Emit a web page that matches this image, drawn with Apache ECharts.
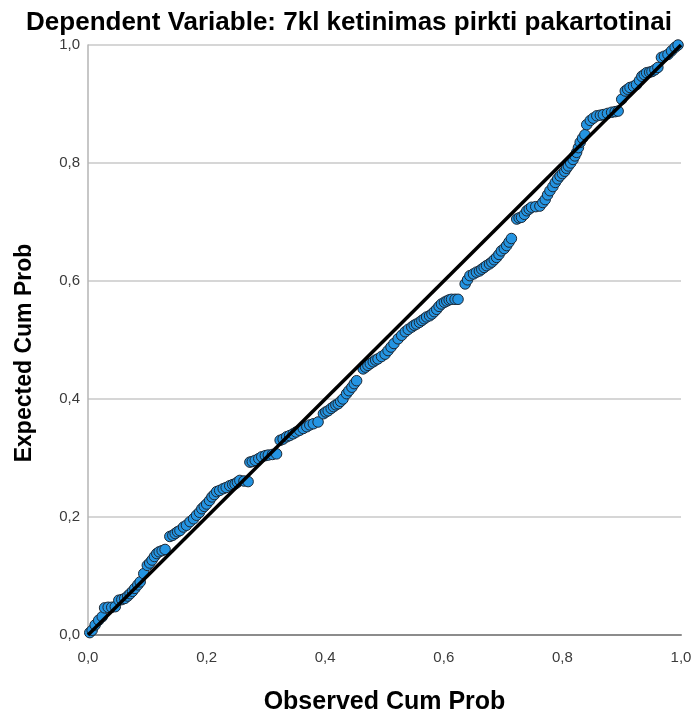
<!DOCTYPE html>
<html>
<head>
<meta charset="utf-8">
<script src="https://cdn.jsdelivr.net/npm/echarts@6/dist/echarts.min.js"></script>
<style>
html,body{margin:0;padding:0;background:#fff;}
#chart{width:698px;height:720px;}
</style>
</head>
<body>
<div id="chart"></div>
<script>
var titleText = 'Dependent Variable: 7kl ketinimas pirkti pakartotinai';
var xAxisName = 'Observed Cum Prob';
var yAxisName = 'Expected Cum Prob';
var tickValues = [0, 0.2, 0.4, 0.6, 0.8, 1.0];

var observedCumProb = [
0.003,0.007,0.012,0.018,0.024,0.028,0.034,0.040,0.046,0.052,0.057,0.062,0.067,0.071,0.075,0.079,0.084,0.088,0.094,0.100,
0.104,0.108,0.112,0.116,0.120,0.125,0.130,0.138,0.143,0.147,0.151,0.155,0.161,0.166,0.172,0.178,0.183,0.188,0.192,0.196,
0.200,0.205,0.209,0.213,0.217,0.222,0.228,0.233,0.239,0.244,0.248,0.252,0.256,0.263,0.270,0.273,0.277,0.282,0.288,0.293,
0.299,0.304,0.311,0.318,0.324,0.329,0.335,0.340,0.346,0.351,0.357,0.363,0.369,0.374,0.380,0.388,0.397,0.401,0.405,0.410,
0.414,0.418,0.422,0.426,0.430,0.436,0.440,0.445,0.449,0.453,0.464,0.468,0.472,0.476,0.481,0.485,0.489,0.495,0.501,0.506,
0.511,0.516,0.523,0.529,0.535,0.540,0.546,0.550,0.554,0.559,0.563,0.567,0.571,0.576,0.580,0.584,0.588,0.592,0.596,0.601,
0.605,0.609,0.613,0.619,0.624,0.636,0.640,0.644,0.650,0.655,0.660,0.664,0.668,0.672,0.677,0.681,0.685,0.689,0.693,0.697,
0.702,0.706,0.710,0.714,0.723,0.727,0.731,0.736,0.740,0.744,0.748,0.755,0.762,0.767,0.771,0.775,0.779,0.784,0.788,0.792,
0.796,0.800,0.804,0.807,0.810,0.814,0.818,0.821,0.824,0.827,0.830,0.834,0.838,0.841,0.847,0.852,0.858,0.864,0.869,0.876,
0.883,0.889,0.894,0.900,0.906,0.910,0.914,0.920,0.925,0.930,0.934,0.938,0.942,0.947,0.951,0.956,0.961,0.967,0.972,0.978,
0.984,0.990,0.995
];
var expectedCumProb = [
0.004,0.008,0.017,0.025,0.031,0.046,0.047,0.047,0.048,0.059,0.060,0.062,0.066,0.070,0.074,0.079,0.085,0.090,0.104,0.118,
0.122,0.127,0.133,0.138,0.141,0.143,0.145,0.167,0.169,0.172,0.175,0.177,0.183,0.186,0.192,0.197,0.203,0.208,0.214,0.218,
0.222,0.228,0.234,0.238,0.243,0.245,0.248,0.250,0.253,0.255,0.256,0.259,0.262,0.261,0.260,0.293,0.294,0.296,0.299,0.302,
0.304,0.305,0.306,0.307,0.330,0.332,0.336,0.338,0.341,0.344,0.347,0.350,0.353,0.356,0.358,0.361,0.375,0.378,0.380,0.384,
0.387,0.390,0.392,0.396,0.400,0.409,0.414,0.420,0.426,0.431,0.451,0.454,0.457,0.460,0.463,0.466,0.468,0.472,0.476,0.482,
0.488,0.494,0.502,0.508,0.514,0.518,0.522,0.525,0.527,0.530,0.533,0.536,0.539,0.541,0.544,0.548,0.552,0.557,0.561,0.564,
0.566,0.568,0.569,0.569,0.569,0.595,0.602,0.609,0.612,0.615,0.617,0.620,0.623,0.626,0.629,0.632,0.636,0.640,0.645,0.651,
0.655,0.660,0.666,0.672,0.705,0.707,0.708,0.713,0.719,0.722,0.725,0.726,0.727,0.733,0.738,0.746,0.753,0.760,0.767,0.773,
0.778,0.782,0.786,0.791,0.795,0.800,0.806,0.812,0.818,0.826,0.835,0.842,0.848,0.865,0.872,0.876,0.880,0.881,0.882,0.884,
0.886,0.887,0.888,0.908,0.922,0.925,0.928,0.930,0.933,0.940,0.947,0.950,0.953,0.954,0.955,0.958,0.962,0.979,0.981,0.984,
0.990,0.996,1.000
];
var refLineX = [0, 1];
var refLineY = [0, 1];

var points = observedCumProb.map(function (x, i) { return [x, expectedCumProb[i]]; });
var refLine = refLineX.map(function (x, i) { return [x, refLineY[i]]; });
function fmt(v) { return v.toFixed(1).replace('.', ','); }

var FONT = 'Liberation Sans, Arial, sans-serif';
var chart = echarts.init(document.getElementById('chart'), null, {renderer: 'canvas'});
chart.setOption({
  animation: false,
  backgroundColor: '#ffffff',
  title: {
    text: titleText,
    left: 'center',
    top: 5,
    textStyle: {fontFamily: FONT, fontSize: 26, fontWeight: 'bold', color: '#000'}
  },
  grid: {left: 88, right: 17, top: 45, bottom: 84, containLabel: false},
  xAxis: {
    type: 'value', min: tickValues[0], max: tickValues[tickValues.length - 1], interval: 0.2,
    name: xAxisName, nameLocation: 'middle', nameGap: 55,
    nameTextStyle: {fontFamily: FONT, fontSize: 25, fontWeight: 'bold', color: '#000'},
    axisLine: {show: true, lineStyle: {color: '#8c8c8c', width: 2}},
    axisTick: {show: false},
    splitLine: {show: false},
    axisLabel: {formatter: fmt, fontFamily: FONT, fontSize: 15, color: '#3a3a3a', margin: 15}
  },
  yAxis: {
    type: 'value', min: tickValues[0], max: tickValues[tickValues.length - 1], interval: 0.2,
    name: yAxisName, nameLocation: 'middle', nameGap: 52,
    nameTextStyle: {fontFamily: FONT, fontSize: 23, fontWeight: 'bold', color: '#000', padding: [0, 26, 0, 0]},
    axisLine: {show: true, lineStyle: {color: '#b4b4b4', width: 1.5}},
    axisTick: {show: false},
    splitLine: {show: true, lineStyle: {color: '#c8c8c8', width: 1.5}},
    axisLabel: {formatter: fmt, fontFamily: FONT, fontSize: 15, color: '#3a3a3a', margin: 8}
  },
  series: [
    {
      type: 'scatter',
      data: points,
      symbol: 'circle',
      symbolSize: 10.5,
      itemStyle: {color: '#2494e2', borderColor: '#1c2733', borderWidth: 1, opacity: 1},
      z: 2
    },
    {
      type: 'line',
      data: refLine,
      symbol: 'none',
      lineStyle: {color: '#000', width: 3.5},
      z: 3
    }
  ]
});
</script>
</body>
</html>
